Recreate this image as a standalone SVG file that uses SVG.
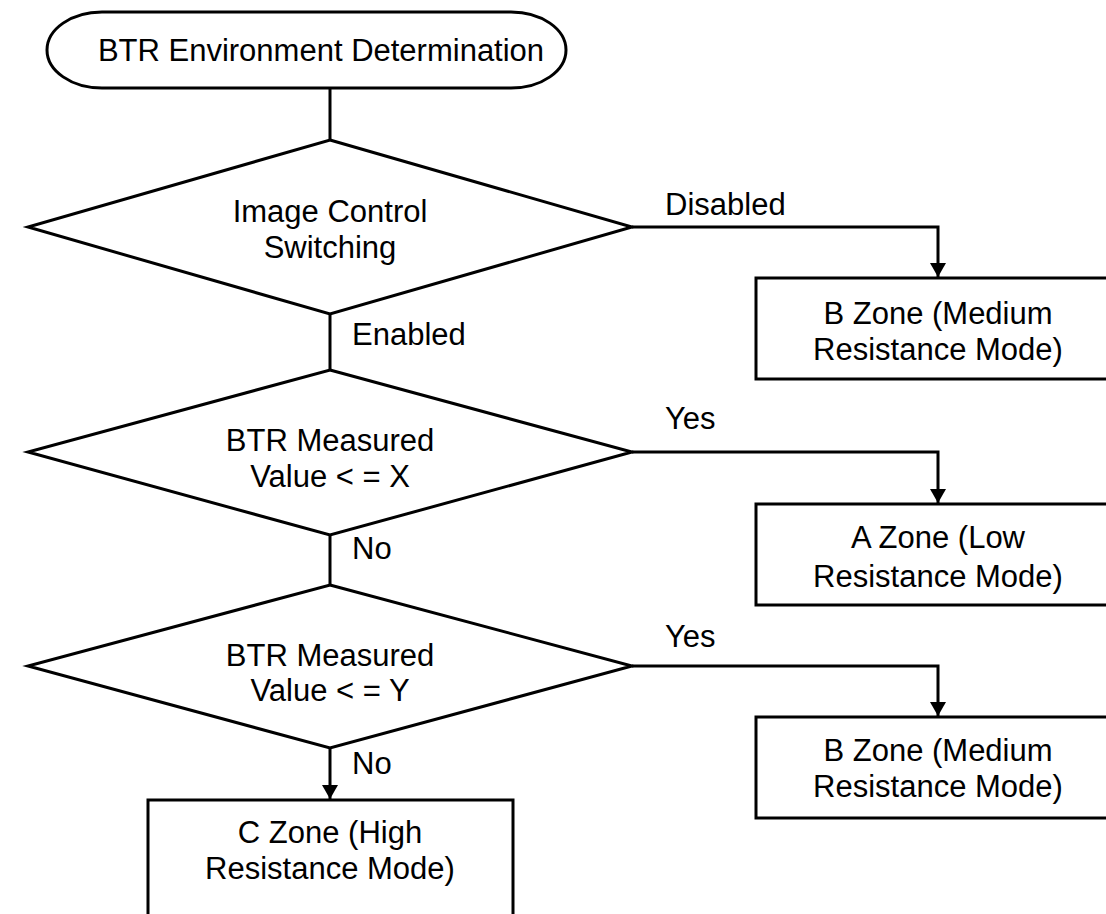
<svg xmlns="http://www.w3.org/2000/svg" width="1106" height="914" viewBox="0 0 1106 914">
<style>
.s{fill:#fff;stroke:#000;stroke-width:3}
.c{fill:none;stroke:#000;stroke-width:3}
text{font-family:"Liberation Sans",Arial,sans-serif;font-size:31px;fill:#000}
.m{text-anchor:middle}
</style>
<defs>
<marker id="ah" viewBox="0 0 14 16" refX="14" refY="8" markerWidth="14" markerHeight="16" markerUnits="userSpaceOnUse" orient="auto">
<path d="M0,0 L14,8 L0,16 Z" fill="#000"/>
</marker>
</defs>
<rect width="1106" height="914" fill="#fff"/>
<g id="connectors">
<path class="c" d="M330,88 V140"/>
<path class="c" d="M632,227 H938 V277" marker-end="url(#ah)"/>
<path class="c" d="M330,314 V370"/>
<path class="c" d="M632,452 H938 V503" marker-end="url(#ah)"/>
<path class="c" d="M330,535 V585"/>
<path class="c" d="M632,666 H938 V716" marker-end="url(#ah)"/>
<path class="c" d="M330,748 V799" marker-end="url(#ah)"/>
<text x="665" y="215">Disabled</text>
<text x="352" y="345">Enabled</text>
<text x="665" y="429">Yes</text>
<text x="352" y="559">No</text>
<text x="665" y="647">Yes</text>
<text x="352" y="774">No</text>
</g>
<g id="start">
<rect class="s" x="47" y="12" width="519" height="76" rx="55" ry="38"/>
<text class="m" x="321" y="61">BTR Environment Determination</text>
</g>
<g id="d1">
<path class="s" d="M330,140 L632,227 L330,314 L28,227 Z"/>
<text class="m" x="330" y="222">Image Control</text>
<text class="m" x="330" y="258">Switching</text>
</g>
<g id="b1">
<rect class="s" x="756" y="278" width="360" height="101"/>
<text class="m" x="938" y="324">B Zone (Medium</text>
<text class="m" x="938" y="360">Resistance Mode)</text>
</g>
<g id="d2">
<path class="s" d="M330,370 L632,452 L330,535 L28,452 Z"/>
<text class="m" x="330" y="451">BTR Measured</text>
<text class="m" x="330" y="487">Value &lt; = X</text>
</g>
<g id="a">
<rect class="s" x="756" y="504" width="360" height="101"/>
<text class="m" x="938" y="548">A Zone (Low</text>
<text class="m" x="938" y="587">Resistance Mode)</text>
</g>
<g id="d3">
<path class="s" d="M330,585 L632,666 L330,748 L28,666 Z"/>
<text class="m" x="330" y="666">BTR Measured</text>
<text class="m" x="330" y="701">Value &lt; = Y</text>
</g>
<g id="b2">
<rect class="s" x="756" y="717" width="360" height="101"/>
<text class="m" x="938" y="761">B Zone (Medium</text>
<text class="m" x="938" y="797">Resistance Mode)</text>
</g>
<g id="cz">
<rect class="s" x="148" y="800" width="365" height="130"/>
<text class="m" x="330" y="843">C Zone (High</text>
<text class="m" x="330" y="879">Resistance Mode)</text>
</g>
</svg>
